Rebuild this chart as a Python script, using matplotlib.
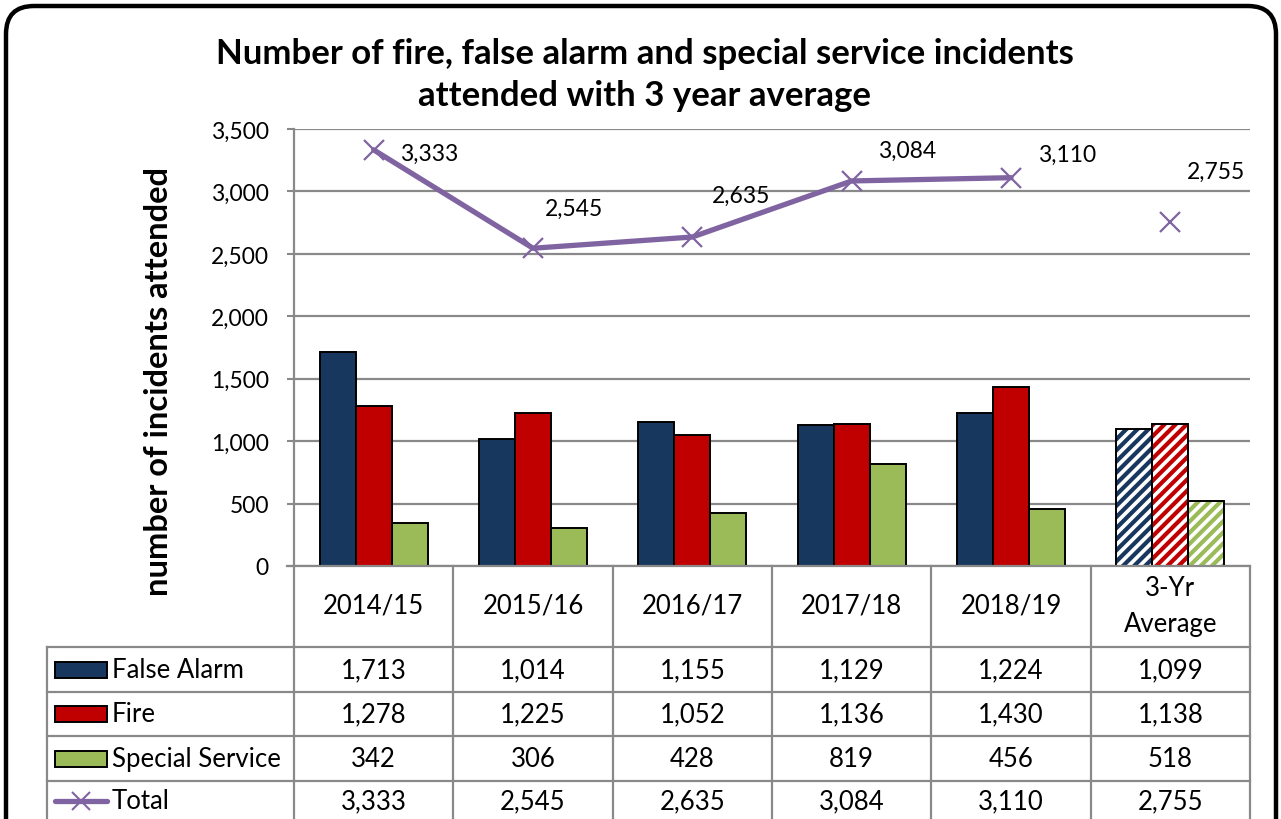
import matplotlib
matplotlib.use("Agg")
import matplotlib.pyplot as plt
from matplotlib.patches import FancyBboxPatch, Rectangle
import numpy as np

plt.rcParams['font.family'] = ['Lato', 'DejaVu Sans']
plt.rcParams['hatch.linewidth'] = 3.0

categories = ["2014/15", "2015/16", "2016/17", "2017/18", "2018/19", "3-Yr\nAverage"]
false_alarm = [1713, 1014, 1155, 1129, 1224, 1099]
fire = [1278, 1225, 1052, 1136, 1430, 1138]
special = [342, 306, 428, 819, 456, 518]
total = [3333, 2545, 2635, 3084, 3110, 2755]
series_names = ["False Alarm", "Fire", "Special Service", "Total"]
title = "Number of fire, false alarm and special service incidents\nattended with 3 year average"
ylabel = "number of incidents attended"
yticks = [0, 500, 1000, 1500, 2000, 2500, 3000, 3500]

# styles
C_NAVY = "#17375E"
C_RED = "#C00000"
C_GREEN = "#9BBB59"
C_PURPLE = "#8064A2"
C_GRID = "#898989"
label_offsets = [(26, -3), (12, 40), (20, 42), (26, 31), (27, 23), (17, 51)]
FS_TICK = 16.5
FS_TAB = 18.5

W, H = 1281, 820
fig = plt.figure(figsize=(W / 100, H / 100), dpi=100)

def px_axes(x0, y0, x1, y1):
    return fig.add_axes([x0 / W, 1 - y1 / H, (x1 - x0) / W, (y1 - y0) / H])

# frame
bg = fig.add_axes([0, 0, 1, 1])
bg.set_xlim(0, W); bg.set_ylim(H, 0); bg.axis('off')
bg.add_patch(FancyBboxPatch((6, 7), 1270, 860, boxstyle="round,pad=0,rounding_size=28",
                            fc="white", ec="black", lw=3.2))

# main plot
L, R, T, B = 294, 1250, 130, 567
ax = px_axes(L, T, R, B)
ax.set_facecolor('none')
n = len(categories)
x = np.arange(n)
bw = 0.226
sets = [(false_alarm, C_NAVY, -bw), (fire, C_RED, 0), (special, C_GREEN, bw)]
for vals, col, off in sets:
    ax.bar(x[:-1] + off, vals[:-1], width=bw, color=col, edgecolor='black', lw=1.4, zorder=3)
    ax.bar(x[-1:] + off, vals[-1:], width=bw, facecolor='white', edgecolor=col,
           hatch='///', lw=0, zorder=3)
    ax.bar(x[-1:] + off, vals[-1:], width=bw, fill=False, edgecolor='black', lw=1.4, zorder=4)

ax.plot(x[:-1], total[:-1], color=C_PURPLE, lw=3.8, marker='x', ms=15, mew=1.6, zorder=5,
        solid_capstyle='round')
ax.plot(x[-1:], total[-1:], ls='none', color=C_PURPLE, marker='x', ms=15, mew=1.6, zorder=5)
for xi, v, (dx, dy) in zip(x, total, label_offsets):
    ax.annotate(f"{v:,}", (xi, v), xytext=(dx, dy), textcoords='offset pixels',
                ha='left', va='center', fontsize=FS_TICK, color='black')

ax.set_xlim(-0.5, n - 0.5)
ax.set_ylim(0, 3500)
ax.set_yticks(yticks)
ax.set_yticklabels([f"{t:,}" for t in yticks], fontsize=FS_TICK)
ax.set_xticks([])
ax.yaxis.grid(True, color=C_GRID, lw=1.6, zorder=0)
ax.tick_params(axis='y', length=5, width=1.5, color=C_GRID, pad=13)
for s in ['top', 'right', 'bottom']:
    ax.spines[s].set_visible(False)
ax.spines['left'].set_color(C_GRID)
ax.spines['left'].set_linewidth(1.6)

fig.text(158 / W, 1 - 382 / H, ylabel, rotation=90, ha='center', va='center',
         fontsize=23.5, fontweight='bold')
fig.text(645 / W, 1 - 75 / H, title, ha='center', va='center', fontsize=25,
         fontweight='bold', linespacing=1.38)

# data table
TL = 47
cw = (R - L) / n
tab = px_axes(TL, B, R, H)
tab.set_xlim(-0.5 - (L - TL) / cw, n - 0.5)
tab.set_ylim(H, B)
tab.axis('off')
xl = -0.5 - (L - TL) / cw
row_edges = [567, 648, 693, 737, 782, 830]
lk = dict(color=C_GRID, lw=1.6, clip_on=False)
tab.plot([-0.5 - 0.045, n - 0.5], [row_edges[0]] * 2, **lk)
for yy in row_edges[1:5]:
    tab.plot([xl, n - 0.5], [yy, yy], **lk)
for b in np.arange(-0.5, n, 1.0):
    tab.plot([b, b], [row_edges[0], H], **lk)
tab.plot([xl, xl], [row_edges[1], H], **lk)

for i, c in enumerate(categories):
    tab.text(x[i], (row_edges[0] + row_edges[1]) / 2 - 1, c, ha='center', va='center',
             fontsize=FS_TAB, linespacing=1.55)

rows = [false_alarm, fire, special, total]
colors = [C_NAVY, C_RED, C_GREEN, C_PURPLE]
sw0 = xl + 8 / cw
sw1 = xl + 60 / cw
for r, (vals, name, col) in enumerate(zip(rows, series_names, colors)):
    ym = (row_edges[r + 1] + row_edges[r + 2]) / 2 if r < 3 else 802
    if r < 3:
        tab.add_patch(Rectangle((sw0, ym - 8), sw1 - sw0, 16, fc=col, ec='black', lw=1.4,
                                clip_on=False))
    else:
        tab.plot([sw0, sw1], [ym, ym], color=col, lw=3.8, solid_capstyle='round', clip_on=False)
        tab.plot([(sw0 + sw1) / 2], [ym], marker='x', color=col, ms=13, mew=1.5, clip_on=False)
    tab.text(sw1 + 5 / cw, ym, name, ha='left', va='center', fontsize=FS_TAB)
    for i, v in enumerate(vals):
        tab.text(x[i], ym, f"{v:,}", ha='center', va='center', fontsize=FS_TAB)

fig.savefig("out.png", dpi=100)
